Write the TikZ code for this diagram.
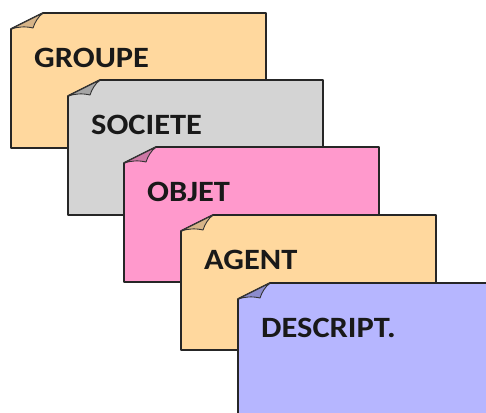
\documentclass[tikz,border=0pt]{standalone}
\usepackage{fontspec}
\setmainfont{Carlito}
\newfontfamily\cardfont[FakeStretch=1.1]{Carlito}
\definecolor{peach}{RGB}{255,216,158}
\definecolor{peachfold}{RGB}{214,180,136}
\definecolor{greyc}{RGB}{212,212,212}
\definecolor{greyfold}{RGB}{165,165,165}
\definecolor{pinkc}{RGB}{255,153,204}
\definecolor{pinkfold}{RGB}{205,120,165}
\definecolor{lavc}{RGB}{182,182,255}
\definecolor{lavfold}{RGB}{140,140,205}
\tikzset{
  cardline/.style={draw=black!85, line width=1.7pt, line join=round},
  foldline/.style={draw=black!80, line width=0.9pt, line join=round},
  cardtext/.style={anchor=base west, inner sep=0pt, font=\cardfont\fontsize{29.5}{30}\selectfont\bfseries, text=black!90}
}
\newcommand\cardbox[6]{%
  \begin{scope}[shift={(#1,#2)}]
    \filldraw[cardline, fill=#3] (0,16) -- (32,0) -- (255,0) -- (255,135) -- (0,135) -- cycle;
    \filldraw[foldline, fill=#4] (0,16) -- (32,0) .. controls (27,4) and (24,9) .. (22,15) .. controls (14,13) and (6,14) .. (0,16) -- cycle;
    \node[cardtext] (#6) at (23,54) {#5};
  \end{scope}}
\begin{document}
\begin{tikzpicture}[x=1pt,y=-1pt]
  \useasboundingbox (0,0) rectangle (486,412);
  \clip (0,0) rectangle (486,412);
  \cardbox{11}{13}{peach}{peachfold}{GROUPE}{groupe}
  \cardbox{68}{80}{greyc}{greyfold}{SOCIETE}{societe}
  \cardbox{124}{147}{pinkc}{pinkfold}{OBJET}{objet}
  \cardbox{181}{215}{peach}{peachfold}{AGENT}{agent}
  \cardbox{238}{283}{lavc}{lavfold}{DESCRIPT.}{descript}
\end{tikzpicture}
\end{document}
